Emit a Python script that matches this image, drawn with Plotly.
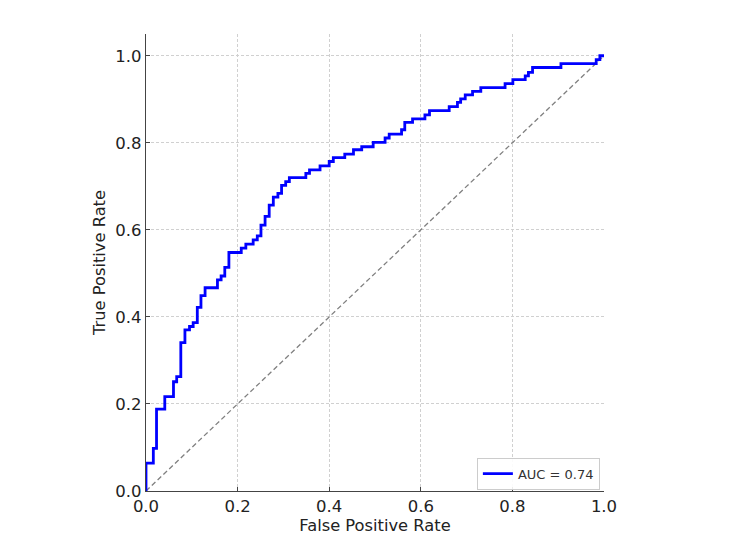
import plotly.graph_objects as go

fpr = [0.0, 0.0, 0.016, 0.023, 0.041, 0.060, 0.067, 0.076, 0.085, 0.095, 0.103, 0.112,
       0.120, 0.129, 0.156, 0.164, 0.172, 0.181, 0.208, 0.218, 0.234, 0.243, 0.251,
       0.260, 0.269, 0.278, 0.288, 0.296, 0.305, 0.313, 0.349, 0.357, 0.380, 0.400,
       0.409, 0.434, 0.453, 0.471, 0.496, 0.522, 0.531, 0.558, 0.565, 0.582, 0.609,
       0.619, 0.662, 0.680, 0.687, 0.697, 0.713, 0.731, 0.784, 0.801, 0.828, 0.835,
       0.844, 0.906, 0.983, 0.991, 1.0]
tpr = [0.0, 0.064, 0.098, 0.188, 0.217, 0.251, 0.263, 0.341, 0.370, 0.378, 0.387, 0.422,
       0.449, 0.467, 0.485, 0.494, 0.514, 0.548, 0.558, 0.567, 0.577, 0.586, 0.611,
       0.631, 0.657, 0.675, 0.684, 0.702, 0.711, 0.720, 0.730, 0.738, 0.747, 0.757,
       0.766, 0.774, 0.784, 0.791, 0.801, 0.811, 0.820, 0.830, 0.847, 0.855, 0.864,
       0.874, 0.883, 0.893, 0.901, 0.910, 0.918, 0.927, 0.936, 0.945, 0.954, 0.962,
       0.973, 0.982, 0.991, 1.0, 1.0]
auc_label = "AUC = 0.74"
diag = [0.0, 1.0]
ticks = [0.0, 0.2, 0.4, 0.6, 0.8, 1.0]

fig = go.Figure()
fig.add_trace(go.Scatter(x=diag, y=diag, mode="lines", showlegend=False,
                         line=dict(color="gray", width=1.3, dash="5px,3px")))
fig.add_trace(go.Scatter(x=fpr, y=tpr, mode="lines", name=auc_label, line_shape="hv",
                         line=dict(color="#0000ff", width=2.8)))

axis_common = dict(
    showline=True, linecolor="#444444", linewidth=1.3,
    ticks="inside", ticklen=4, tickwidth=1.2, tickcolor="#444444",
    showgrid=True, gridcolor="#d0d0d0", gridwidth=1, griddash="3px,2px",
    zeroline=False, tickformat=".1f", tickvals=ticks,
    tickfont=dict(family="DejaVu Sans", size=16.5, color="#222222"),
    mirror=False,
)

fig.update_layout(
    width=750, height=544,
    margin=dict(l=146, r=146, t=34, b=53),
    plot_bgcolor="white", paper_bgcolor="white",
    font=dict(family="DejaVu Sans", size=16, color="#222222"),
    xaxis=dict(range=[0, 1.0], ticklabelstandoff=0,
               title=dict(text="False Positive Rate", standoff=2, font=dict(size=16.3)),
               **axis_common),
    yaxis=dict(range=[0, 1.05], ticklabelstandoff=0,
               title=dict(text="True Positive Rate", standoff=5, font=dict(size=16.3)),
               **axis_common),
    legend=dict(x=0.991, y=0.003, xanchor="right", yanchor="bottom",
                bgcolor="rgba(255,255,255,0.9)", bordercolor="#cccccc", borderwidth=1,
                font=dict(family="DejaVu Sans", size=13, color="#333333"),
                itemwidth=30),
)

fig.write_html("out.html")
